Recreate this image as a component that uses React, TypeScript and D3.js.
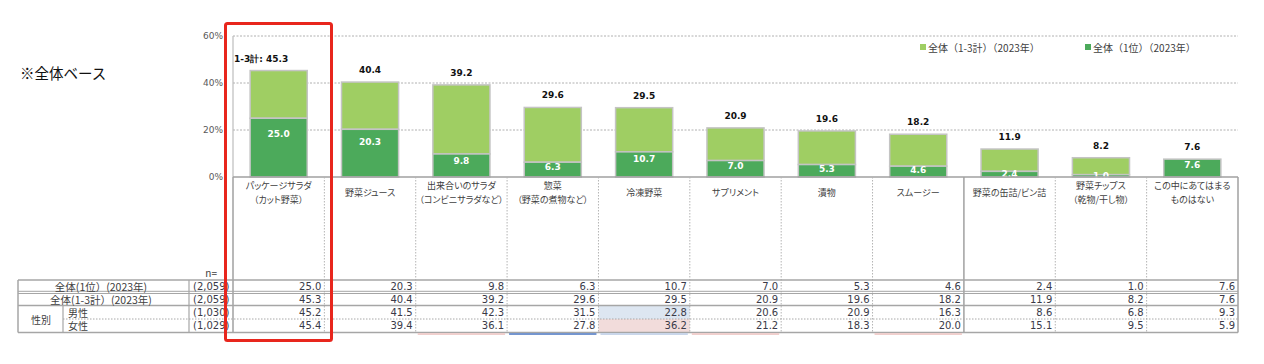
import React from 'react';
import * as d3 from 'd3';

// categories (label lines)
const categories: string[][] = [
  ['パッケージサラダ', '（カット野菜）'],
  ['野菜ジュース'],
  ['出来合いのサラダ', '（コンビニサラダなど）'],
  ['惣菜', '（野菜の煮物など）'],
  ['冷凍野菜'],
  ['サプリメント'],
  ['漬物'],
  ['スムージー'],
  ['野菜の缶詰/ビン詰'],
  ['野菜チップス', '（乾物/干し物）'],
  ['この中にあてはまる', 'ものはない'],
];

const rank1 = [25.0, 20.3, 9.8, 6.3, 10.7, 7.0, 5.3, 4.6, 2.4, 1.0, 7.6];
const top3 = [45.3, 40.4, 39.2, 29.6, 29.5, 20.9, 19.6, 18.2, 11.9, 8.2, 7.6];
const male = [45.2, 41.5, 42.3, 31.5, 22.8, 20.6, 20.9, 16.3, 8.6, 6.8, 9.3];
const female = [45.4, 39.4, 36.1, 27.8, 36.2, 21.2, 18.3, 20.0, 15.1, 9.5, 5.9];

const yTicks = [0, 20, 40, 60];
const legendLabels = ['全体（1-3計）（2023年）', '全体（1位）（2023年）'];
const rowLabels = ['全体(1位）(2023年)', '全体(1-3計）(2023年)'];
const genderLabels = ['男性', '女性'];
const nValues = ['(2,059)', '(2,059)', '(1,030)', '(1,029)'];
// significance marks under the table (m = male higher, f = female higher)
const sigMark = ['', '', 'f', 'm', 'm', 'f', '', 'f', '', '', ''];
// cells shaded in the gender rows
const shadeMale = [false, false, false, false, true, false, false, false, false, false, false];
const shadeFemale = [false, false, false, false, true, false, false, false, false, false, false];

const W = 1264;
const H = 364;
const LIGHT = '#9fce63';
const DARK = '#4caa5b';
const EDGE = '#c4c4c4';
const LINE = '#a6a6a6';
const JP = '"Noto Sans CJK JP", "Noto Sans", sans-serif';
const NUM = '"DejaVu Sans", Verdana, sans-serif';

export default function App() {
  const keys = categories.map(c => c.join(''));
  const x = d3.scaleBand<string>().domain(keys).range([233, 1238]).paddingInner(0.375).paddingOuter(0.1875);
  const y = d3.scaleLinear().domain([0, 60]).range([177, 36]);
  const step = x.step();
  const colLeft = (i: number) => (x(keys[i]) as number) - (step * 0.375) / 2;
  const tableRight = colLeft(keys.length - 1) + step;
  const bw = x.bandwidth();

  // table rows
  const rowEdges = [280, 292.5, 305.5, 319, 332.5];
  const rowMid = (r: number) => (rowEdges[r] + rowEdges[r + 1]) / 2;
  const tableRows = [rank1, top3, male, female];

  return (
    <svg width={W} height={H} style={{ position: 'absolute', left: 0, top: 0, background: '#fff' }}>
      <rect width={W} height={H} fill="#fff" />
      <text x={20} y={72} fontFamily={JP} fontSize={14.5} fill="#111" dominantBaseline="central">※全体ベース</text>

      {/* grid */}
      {yTicks.map(t => (
        <g key={t}>
          {t > 0 && (
            <line x1={233} x2={1238} y1={y(t)} y2={y(t)} stroke="#b0b0b0" strokeDasharray="2,1.5" />
          )}
          <text x={223} y={y(t)} textAnchor="end" dominantBaseline="central" fontFamily={NUM} fontSize={9} fill="#595959">{t}%</text>
        </g>
      ))}
      <line x1={233} x2={233} y1={y(60)} y2={y(0)} stroke="#bdbdbd" strokeWidth={1.2} />

      {/* legend */}
      {legendLabels.map((l, i) => {
        const lx = i === 0 ? 920 : 1085;
        return (
          <g key={l}>
            <rect x={lx} y={44} width={6} height={6} fill={i === 0 ? LIGHT : DARK} />
            <text x={lx + 8} y={47.5} dominantBaseline="central" fontFamily={JP} fontSize={10} fill="#404040">{l}</text>
          </g>
        );
      })}

      {/* bars */}
      {keys.map((k, i) => {
        const bx = x(k) as number;
        const cx = bx + bw / 2;
        return (
          <g key={k}>
            {top3[i] > rank1[i] && (
              <rect x={bx} y={y(top3[i])} width={bw} height={y(rank1[i]) - y(top3[i])} fill={LIGHT} stroke={EDGE} strokeWidth={1.5} />
            )}
            <rect x={bx} y={y(rank1[i])} width={bw} height={y(0) - y(rank1[i])} fill={DARK} stroke={EDGE} strokeWidth={1.5} />
            <text x={i === 0 ? colLeft(0) + 1 : cx} y={y(top3[i]) - 12} textAnchor={i === 0 ? 'start' : 'middle'} dominantBaseline="central" fontFamily={NUM} fontWeight="bold" fontSize={9} fill="#111">
              {i === 0 ? `1-3計: ${top3[i].toFixed(1)}` : top3[i].toFixed(1)}
            </text>
            <text x={cx} y={y(rank1[i] * 0.75) + 1} textAnchor="middle" dominantBaseline="central" fontFamily={NUM} fontWeight="bold" fontSize={9} fill="#fff">
              {rank1[i].toFixed(1)}
            </text>
          </g>
        );
      })}
      <line x1={233} x2={tableRight} y1={y(0)} y2={y(0)} stroke="#a0a0a0" strokeWidth={1.5} />

      {/* category labels */}
      {categories.map((lines, i) => {
        const cx = colLeft(i) + step / 2;
        const y0 = 192.5 - ((lines.length - 1) * 14) / 2;
        return lines.map((ln, j) => (
          <text key={`${i}-${j}`} x={cx} y={y0 + j * 14} textAnchor="middle" dominantBaseline="central" fontFamily={JP} fontSize={9} fill="#404040" style={{ fontFeatureSettings: '"palt"' }}>{ln}</text>
        ));
      })}

      {/* shaded cells */}
      {keys.map((k, i) => (
        <g key={`sh-${k}`}>
          {shadeMale[i] && <rect x={colLeft(i)} y={rowEdges[2]} width={step} height={rowEdges[3] - rowEdges[2]} fill="#dde6f1" />}
          {shadeFemale[i] && <rect x={colLeft(i)} y={rowEdges[3]} width={step} height={rowEdges[4] - rowEdges[3]} fill="#f2dcdb" />}
        </g>
      ))}

      {/* column separators */}
      {d3.range(keys.length + 1).map(i => {
        const cx = i < keys.length ? colLeft(i) : tableRight;
        const solid = i === 0 || i === 8 || i === keys.length;
        return (
          <line key={`c${i}`} x1={cx} x2={cx} y1={y(0)} y2={rowEdges[4]} stroke={solid ? '#a0a0a0' : '#b4b4b4'} strokeWidth={solid ? 1.5 : 1} strokeDasharray={solid ? undefined : '1.5,1.5'} />
        );
      })}

      {/* table grid */}
      <text x={217} y={272} textAnchor="end" dominantBaseline="central" fontFamily={JP} fontSize={10} fill="#404040">n=</text>
      <line x1={18} x2={tableRight} y1={rowEdges[0]} y2={rowEdges[0]} stroke={LINE} strokeWidth={1.5} />
      <line x1={18} x2={tableRight} y1={rowEdges[1] - 1.2} y2={rowEdges[1] - 1.2} stroke={LINE} strokeWidth={1} />
      <line x1={18} x2={tableRight} y1={rowEdges[1] + 1} y2={rowEdges[1] + 1} stroke={LINE} strokeWidth={1} />
      <line x1={18} x2={tableRight} y1={rowEdges[2]} y2={rowEdges[2]} stroke={LINE} strokeWidth={1.5} />
      <line x1={63} x2={tableRight} y1={rowEdges[3]} y2={rowEdges[3]} stroke="#a8a8a8" strokeDasharray="1.5,1.5" />
      <line x1={18} x2={tableRight} y1={rowEdges[4]} y2={rowEdges[4]} stroke={LINE} strokeWidth={1.5} />
      <line x1={18} x2={18} y1={rowEdges[0]} y2={rowEdges[4]} stroke={LINE} strokeWidth={1.5} />
      <line x1={63} x2={63} y1={rowEdges[2]} y2={rowEdges[4]} stroke={LINE} strokeWidth={1.2} />
      <line x1={189} x2={189} y1={rowEdges[0]} y2={rowEdges[4]} stroke={LINE} strokeWidth={1.2} />

      {rowLabels.map((l, r) => (
        <text key={l} x={101} y={rowMid(r)} textAnchor="middle" dominantBaseline="central" fontFamily={JP} fontSize={10.5} fill="#404040">{l}</text>
      ))}
      <text x={41} y={rowEdges[3]} textAnchor="middle" dominantBaseline="central" fontFamily={JP} fontSize={10} fill="#404040">性別</text>
      {genderLabels.map((l, j) => (
        <text key={l} x={68} y={rowMid(2 + j)} dominantBaseline="central" fontFamily={JP} fontSize={10} fill="#404040">{l}</text>
      ))}
      {nValues.map((n, r) => (
        <text key={`n${r}`} x={193} y={rowMid(r)} dominantBaseline="central" fontFamily={NUM} fontSize={10} fill="#3a3a48">{n}</text>
      ))}

      {tableRows.map((row, r) =>
        row.map((v, i) => (
          <text key={`v${r}-${i}`} x={colLeft(i) + step - 3} y={rowMid(r)} textAnchor="end" dominantBaseline="central" fontFamily={NUM} fontSize={10} fill="#3a3a48">{v.toFixed(1)}</text>
        ))
      )}

      {/* significance underlines */}
      {sigMark.map((m, i) => m && (
        <line key={`u${i}`} x1={colLeft(i) + 2} x2={colLeft(i) + step - 2} y1={rowEdges[4] + 1.5} y2={rowEdges[4] + 1.5}
          stroke={m === 'm' ? (i === 3 ? '#7596cf' : '#c9d6ea') : '#f0cfcd'} strokeWidth={2} />
      ))}

      {/* highlight box */}
      <rect x={225.5} y={23.5} width={106} height={317} fill="none" stroke="#e8261d" strokeWidth={3} rx={2} />
    </svg>
  );
}
